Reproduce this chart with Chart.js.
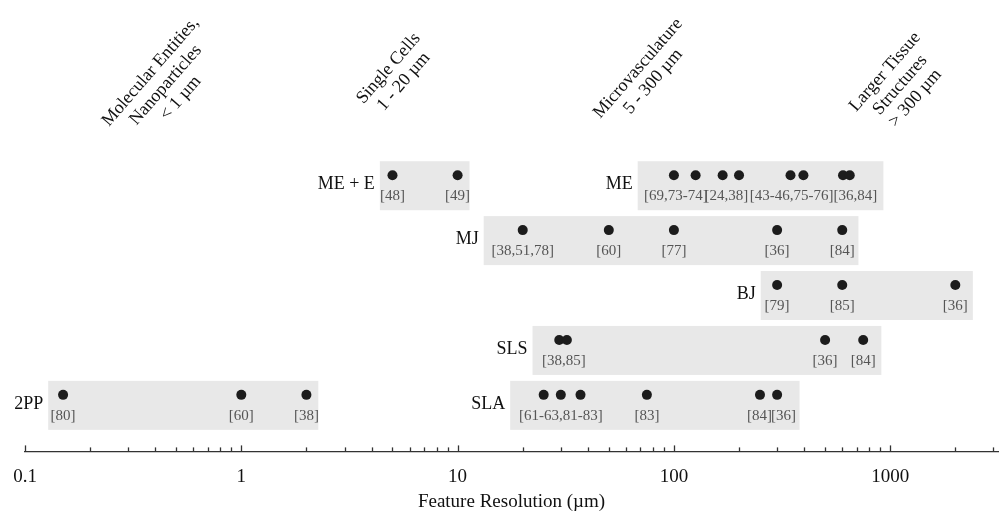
<!DOCTYPE html>
<html>
<head>
<meta charset="utf-8">
<script src="https://cdn.jsdelivr.net/npm/chart.js@4"></script>
<style>
  html, body { margin: 0; padding: 0; background: #fff; }
  #wrap { width: 1003px; height: 513px; }
</style>
</head>
<body>
<div id="wrap"><canvas id="myChart"></canvas></div>
<script>
// rows, top to bottom: ME+E / ME, MJ, BJ, SLS, 2PP / SLA
const groups = ["ME + E", "ME", "MJ", "BJ", "SLS", "2PP", "SLA"];
const groupRow = [4, 4, 3, 2, 1, 0, 0];

// feature resolution (um) of each point
const mePlusE = [5, 10];
const me = [100, 126, 168, 200, 346, 397, 605, 650];
const mj = [20, 50, 100, 300, 600];
const bj = [300, 600, 2000];
const sls = [29.5, 32, 500, 750];
const twoPP = [0.15, 1, 2];
const sla = [25, 30, 37, 75, 250, 300];

// shaded range of each group [from, to]
const ranges = [[4.37, 11.35], [68, 930], [13.2, 713], [252, 2410], [22.2, 910], [0.128, 2.27], [17.5, 381]];

// reference labels under the points
const refText = [
  ["[48]", "[49]"],
  ["[69,73-74]", "[24,38]", "[43-46,75-76]", "[36,84]"],
  ["[38,51,78]", "[60]", "[77]", "[36]", "[84]"],
  ["[79]", "[85]", "[36]"],
  ["[38,85]", "[36]", "[84]"],
  ["[80]", "[60]", "[38]"],
  ["[61-63,81-83]", "[83]", "[84]", "[36]"]
];
const refAt = [
  [5, 10],
  [102, 175, 350, 690],
  [20, 50, 100, 300, 600],
  [300, 600, 2000],
  [31, 500, 750],
  [0.15, 1, 2],
  [30, 75, 249, 321]
];

// size classes along the top
const classText = [
  ["Molecular Entities,", "Nanoparticles", "< 1 \u00b5m"],
  ["Single Cells", "1 - 20 \u00b5m"],
  ["Microvasculature", "5 - 300 \u00b5m"],
  ["Larger Tissue", "Structures", "> 300 \u00b5m"]
];
const classAt = [0.447, 5.2, 74, 1112];

const pointSets = [mePlusE, me, mj, bj, sls, twoPP, sla];
const FONT = "'Liberation Serif', 'Times New Roman', serif";

const datasets = pointSets.map(function (vals, i) {
  return {
    label: groups[i],
    data: vals.map(function (v) { return { x: v, y: groupRow[i] }; }),
    backgroundColor: "#1c1c1c",
    borderWidth: 0,
    pointRadius: 5,
    pointHoverRadius: 5
  };
});

const decorPlugin = {
  id: "decor",
  beforeDatasetsDraw(chart) {
    const ctx = chart.ctx;
    const xs = chart.scales.x, ys = chart.scales.y;
    ctx.save();
    ctx.fillStyle = "#e8e8e8";
    ranges.forEach(function (r, i) {
      const y = ys.getPixelForValue(groupRow[i]);
      const x0 = xs.getPixelForValue(r[0]);
      const x1 = xs.getPixelForValue(r[1]);
      ctx.fillRect(x0, y - 14, x1 - x0, 49);
    });
    ctx.restore();
  },
  afterDraw(chart) {
    const ctx = chart.ctx;
    const xs = chart.scales.x, ys = chart.scales.y;
    ctx.save();
    // group names, right of which the shaded box starts
    ctx.font = "18px " + FONT;
    ctx.fillStyle = "#111";
    ctx.textAlign = "right";
    ctx.textBaseline = "middle";
    groups.forEach(function (g, i) {
      const y = ys.getPixelForValue(groupRow[i]);
      const x = xs.getPixelForValue(ranges[i][0]);
      ctx.fillText(g, x - 5, y + 9);
    });
    // reference numbers
    ctx.font = "15px " + FONT;
    ctx.fillStyle = "#555";
    ctx.textAlign = "center";
    refText.forEach(function (list, i) {
      const y = ys.getPixelForValue(groupRow[i]);
      list.forEach(function (t, j) {
        ctx.fillText(t, xs.getPixelForValue(refAt[i][j]), y + 21);
      });
    });
    // tick marks pointing up from the axis
    ctx.strokeStyle = "#333";
    ctx.lineWidth = 1.3;
    const base = chart.chartArea.bottom;
    xs.ticks.forEach(function (t) {
      const e = Math.floor(Math.log10(t.value) + 1e-9);
      const s = t.value / Math.pow(10, e);
      if (Math.abs(s - Math.round(s)) > 1e-6) return;
      const x = Math.round(xs.getPixelForValue(t.value)) + 0.5;
      const len = Math.round(s) === 1 ? 6 : 4;
      ctx.beginPath();
      ctx.moveTo(x, base);
      ctx.lineTo(x, base - len);
      ctx.stroke();
    });
    // size classes, rotated
    ctx.font = "18px " + FONT;
    ctx.fillStyle = "#111";
    classText.forEach(function (lines, i) {
      const cx = xs.getPixelForValue(classAt[i]);
      const cy = lines.length === 3 ? 85 : 75;
      ctx.save();
      ctx.translate(cx, cy);
      ctx.rotate(-49 * Math.PI / 180);
      lines.forEach(function (l, k) {
        ctx.fillText(l, 0, (k - (lines.length - 1) / 2) * 20);
      });
      ctx.restore();
    });
    ctx.restore();
  }
};

const config = {
  type: "scatter",
  data: { datasets: datasets },
  options: {
    responsive: true,
    maintainAspectRatio: false,
    animation: false,
    layout: { padding: { left: 25, right: 2, top: 0, bottom: 0 } },
    plugins: {
      legend: { display: false },
      tooltip: { enabled: false }
    },
    scales: {
      x: {
        type: "logarithmic",
        min: 0.1,
        max: 3150,
        grid: {
          display: true,
          drawOnChartArea: false,
          drawTicks: true,
          tickLength: 14,
          color: "rgba(0,0,0,0)"
        },
        border: { display: true, color: "#333", width: 1.3 },
        ticks: {
          autoSkip: false,
          maxRotation: 0,
          padding: 0,
          color: "#111",
          font: { family: FONT, size: 19 },
          callback: function (v) {
            const e = Math.log10(v);
            if (Math.abs(e - Math.round(e)) > 1e-6) return "";
            return String(+Number(v).toPrecision(3));
          }
        },
        title: {
          display: true,
          text: "Feature Resolution (\u00b5m)",
          color: "#111",
          font: { family: FONT, size: 19 },
          padding: { top: 2, bottom: 0 }
        }
      },
      y: {
        type: "linear",
        display: false,
        min: -1.03,
        max: 7.1
      }
    }
  },
  plugins: [decorPlugin]
};

const myChart = new Chart(document.getElementById("myChart"), config);
</script>
</body>
</html>
